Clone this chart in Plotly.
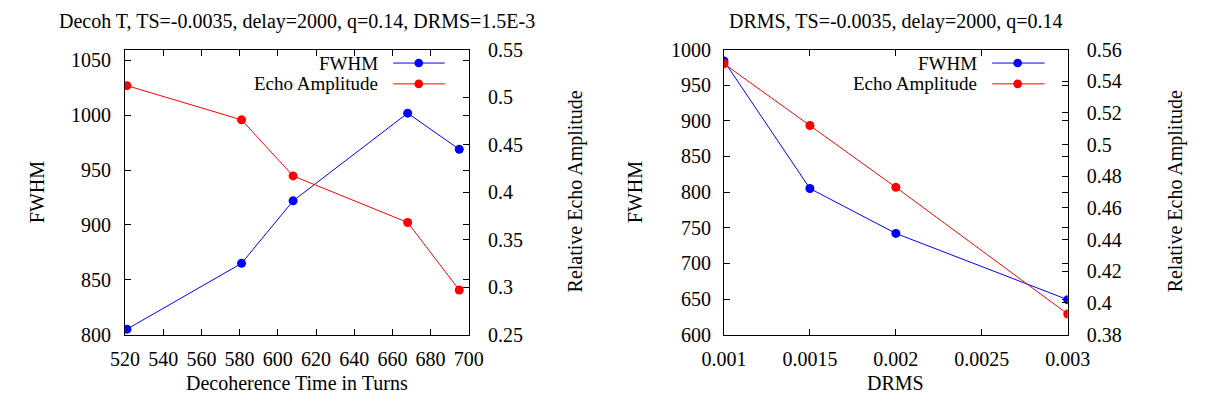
import plotly.graph_objects as go

# ---- data ----
decoh_turns = [521, 581, 608, 668, 695]
decoh_fwhm = [805, 865, 922, 1002, 969]
decoh_amp = [0.512, 0.476, 0.417, 0.368, 0.297]

drms_vals = [0.001, 0.0015, 0.002, 0.003]
drms_fwhm = [984, 805, 742, 649]
drms_amp = [0.551, 0.512, 0.473, 0.393]

left_xticks = [520, 540, 560, 580, 600, 620, 640, 660, 680, 700]
left_yticks = [800, 850, 900, 950, 1000, 1050]
left_y2ticks = [0.25, 0.3, 0.35, 0.4, 0.45, 0.5, 0.55]
left_y2labels = ["0.25", "0.3", "0.35", "0.4", "0.45", "0.5", "0.55"]

right_xticks = [0.001, 0.0015, 0.002, 0.0025, 0.003]
right_xlabels = ["0.001", "0.0015", "0.002", "0.0025", "0.003"]
right_yticks = [600, 650, 700, 750, 800, 850, 900, 950, 1000]
right_y2ticks = [0.38, 0.40, 0.42, 0.44, 0.46, 0.48, 0.50, 0.52, 0.54, 0.56]
right_y2labels = ["0.38", "0.4", "0.42", "0.44", "0.46", "0.48", "0.5", "0.52", "0.54", "0.56"]

title_left = "Decoh T, TS=-0.0035, delay=2000, q=0.14, DRMS=1.5E-3"
title_right = "DRMS, TS=-0.0035, delay=2000, q=0.14"
series_names = ["FWHM", "Echo Amplitude"]

W, H = 1214, 410
FONT = "Liberation Serif"
FS = 20
BLUE = "#0000ff"
RED = "#ff0000"


def px(x):
    return x / W


def py(y):
    return 1 - y / H


fig = go.Figure()

# left panel
fig.add_trace(go.Scatter(x=decoh_turns, y=decoh_fwhm, mode="lines+markers",
                         line=dict(color=BLUE, width=1), marker=dict(color=BLUE, size=9),
                         xaxis="x", yaxis="y", showlegend=False))
fig.add_trace(go.Scatter(x=decoh_turns, y=decoh_amp, mode="lines+markers",
                         line=dict(color=RED, width=1), marker=dict(color=RED, size=9),
                         xaxis="x", yaxis="y2", showlegend=False))
# right panel
fig.add_trace(go.Scatter(x=drms_vals, y=drms_fwhm, mode="lines+markers",
                         line=dict(color=BLUE, width=1), marker=dict(color=BLUE, size=9),
                         xaxis="x2", yaxis="y3", showlegend=False))
fig.add_trace(go.Scatter(x=drms_vals, y=drms_amp, mode="lines+markers",
                         line=dict(color=RED, width=1), marker=dict(color=RED, size=9),
                         xaxis="x2", yaxis="y4", showlegend=False))

tickfont = dict(family=FONT, size=FS, color="black")
ydom = [py(342), py(40.7)]
common = dict(showgrid=False, zeroline=False, showline=True, linecolor="black",
              linewidth=1.2, ticks="inside", ticklen=6, tickcolor="black",
              tickwidth=1, tickfont=tickfont)

fig.update_layout(
    width=W, height=H,
    margin=dict(l=0, r=0, t=0, b=0),
    paper_bgcolor="white", plot_bgcolor="white",
    showlegend=False,
    xaxis=dict(domain=[px(107), px(464)], range=[520, 700], tickvals=left_xticks,
               mirror="ticks", anchor="y", ticklabelstandoff=6, **common),
    yaxis=dict(domain=ydom, range=[800, 1060], tickvals=left_yticks,
               mirror="ticks", anchor="x", ticklabelstandoff=9, **common),
    yaxis2=dict(overlaying="y", side="right", anchor="x", range=[0.25, 0.55],
                tickvals=left_y2ticks, ticktext=left_y2labels, ticklabelstandoff=14, **common),
    xaxis2=dict(domain=[px(729), px(1086)], range=[0.001, 0.003], tickvals=right_xticks,
                ticktext=right_xlabels, mirror="ticks", anchor="y3", ticklabelstandoff=6,
                **common),
    yaxis3=dict(domain=ydom, range=[600, 1000], tickvals=right_yticks,
                mirror="ticks", anchor="x2", ticklabelstandoff=8, **common),
    yaxis4=dict(overlaying="y3", side="right", anchor="x2", range=[0.38, 0.56],
                tickvals=right_y2ticks, ticktext=right_y2labels, ticklabelstandoff=14, **common),
)

txt = dict(family=FONT, size=FS, color="black")
legtxt = dict(family=FONT, size=19, color="black")
ann = []
# titles
ann.append(dict(text=title_left, x=px(285.5), y=py(11), xanchor="center", yanchor="middle",
                font=txt))
ann.append(dict(text=title_right, x=px(907.5), y=py(11), xanchor="center", yanchor="middle",
                font=txt))
# x titles
ann.append(dict(text="Decoherence Time in Turns", x=px(285.5), y=py(393), xanchor="center",
                yanchor="middle", font=txt))
ann.append(dict(text="DRMS", x=px(907.5), y=py(393), xanchor="center", yanchor="middle", font=txt))
# y titles
for xx, t in [(15, "FWHM"), (575, "Relative Echo Amplitude"), (636, "FWHM"),
              (1198, "Relative Echo Amplitude")]:
    ann.append(dict(text=t, x=px(xx), y=py(191), xanchor="center", yanchor="middle",
                    textangle=-90, font=txt))

shapes = []
colors = [BLUE, RED]
for (text_end, l0, l1, dot) in [(372, 385.5, 439, 412), (994, 1007.5, 1062, 1034)]:
    for i, (name, yy) in enumerate(zip(series_names, [55, 77])):
        ann.append(dict(text=name, x=px(text_end), y=py(yy), xanchor="right", yanchor="middle",
                        font=legtxt))
        shapes.append(dict(type="line", xref="paper", yref="paper", x0=px(l0), x1=px(l1),
                           y0=py(yy), y1=py(yy), line=dict(color=colors[i], width=1)))
        r = 4.5
        shapes.append(dict(type="circle", xref="paper", yref="paper",
                           x0=px(dot - r), x1=px(dot + r), y0=py(yy + r), y1=py(yy - r),
                           fillcolor=colors[i], line=dict(color=colors[i], width=0)))

for a in ann:
    a.update(xref="paper", yref="paper", showarrow=False)
fig.update_layout(annotations=ann, shapes=shapes)

fig.write_html("out.html")
